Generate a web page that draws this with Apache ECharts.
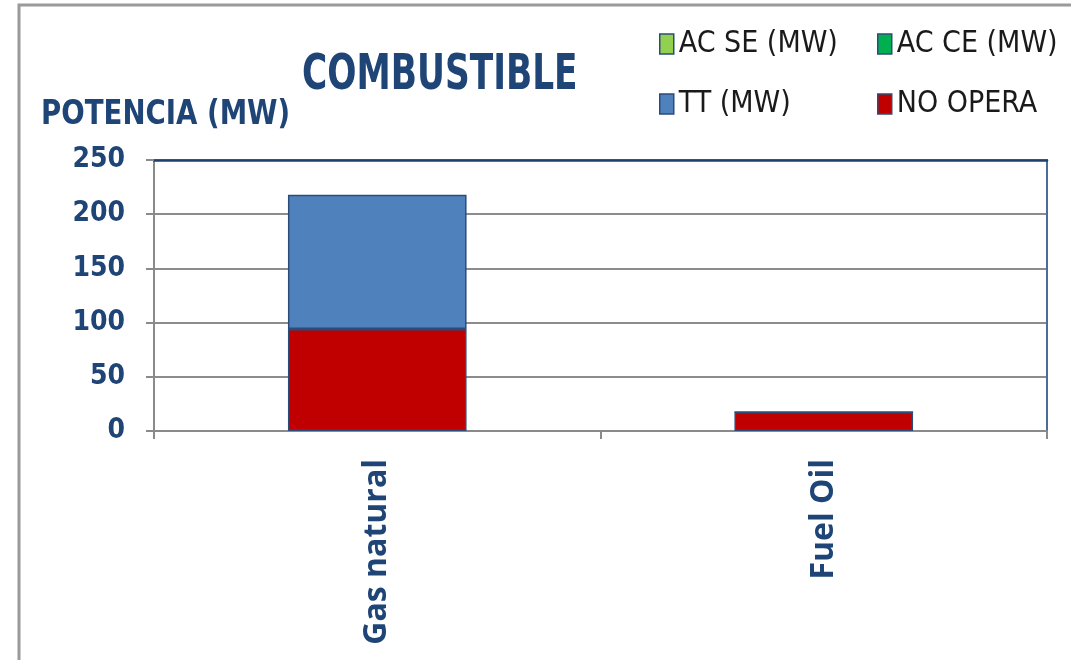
<!DOCTYPE html>
<html>
<head>
<meta charset="utf-8">
<script src="https://cdn.jsdelivr.net/npm/echarts@6/dist/echarts.min.js"></script>
<style>
html,body{margin:0;padding:0;background:#fff;}
#c{width:1071px;height:660px;}
</style>
</head>
<body>
<div id="c"></div>
<script>
var categories = ['Gas natural', 'Fuel Oil'];
var acSE = [0, 0];
var acCE = [0, 0];
var tt = [124, 0];
var noOpera = [94, 17.5];
var yTicks = [0, 50, 100, 150, 200, 250];
var legendNames = ['AC SE (MW)', 'AC CE (MW)', 'TT (MW)', 'NO OPERA'];

var NARROW = '"Liberation Sans Narrow","DejaVu Sans Condensed",sans-serif';
var DARK = '#1F4577';
var BORDER = '#2B4C7A';

function legendAt(name, left, top) {
  return {
    data: [name], left: left, top: top, icon: 'rect', padding: 0,
    itemWidth: 14, itemHeight: 20, itemGap: 0,
    itemStyle: {borderColor: BORDER, borderWidth: 1.5},
    textStyle: {fontFamily: NARROW, fontSize: 30, color: '#1a1a1a'}
  };
}

var chart = echarts.init(document.getElementById('c'));
chart.setOption({
  animation: false,
  backgroundColor: '#fff',
  graphic: [{
    type: 'rect', silent: true, z: 0,
    shape: {x: 19, y: 5, width: 1100, height: 700},
    style: {fill: 'none', stroke: '#9a9a9a', lineWidth: 3}
  }, {
    type: 'text', silent: true, x: 302, y: 51, scaleX: 0.765,
    style: {text: 'COMBUSTIBLE', font: 'bold 50px ' + NARROW, fill: DARK}
  }, {
    type: 'text', silent: true, x: 41, y: 99, scaleX: 0.93,
    style: {text: 'POTENCIA (MW)', font: 'bold 33px ' + NARROW, fill: DARK}
  }],
  legend: [
    legendAt(legendNames[0], 659, 29),
    legendAt(legendNames[1], 877, 29),
    legendAt(legendNames[2], 659, 89),
    legendAt(legendNames[3], 877, 89)
  ],
  grid: {left: 154, right: 24, top: 160, bottom: 229, containLabel: false},
  xAxis: [{
    type: 'category', data: categories, position: 'bottom',
    axisLine: {onZero: false, lineStyle: {color: '#8a8a8a', width: 2}},
    axisTick: {show: true, length: 8, lineStyle: {color: '#8a8a8a', width: 2}},
    axisLabel: {rotate: 90, margin: 28, fontFamily: '"Open Sans","DejaVu Sans",sans-serif', fontSize: 32, fontWeight: 'bold', color: DARK},
    splitLine: {show: false}
  }, {
    type: 'category', data: categories, position: 'top',
    axisLine: {show: true, onZero: false, lineStyle: {color: '#1F3F6F', width: 2.5}},
    axisTick: {show: false}, axisLabel: {show: false}
  }],
  yAxis: [{
    type: 'value', min: yTicks[0], max: yTicks[yTicks.length - 1], interval: 50,
    axisLine: {show: true, onZero: false, lineStyle: {color: '#8a8a8a', width: 2}},
    axisTick: {show: true, length: 8, lineStyle: {color: '#8a8a8a', width: 2}},
    axisLabel: {margin: 29, fontFamily: NARROW, fontSize: 28, fontWeight: 'bold', color: DARK},
    splitLine: {show: true, lineStyle: {color: '#8c8c8c', width: 2}}
  }, {
    type: 'value', min: 0, max: 250, interval: 50, position: 'right',
    axisLine: {show: true, onZero: false, lineStyle: {color: '#4A6C9C', width: 2}},
    axisTick: {show: false}, axisLabel: {show: false}, splitLine: {show: false}
  }],
  series: [{
    name: 'NO OPERA', type: 'bar', stack: 's', data: noOpera, barWidth: '40%',
    itemStyle: {color: '#C00000', borderColor: BORDER, borderWidth: 1.5}
  }, {
    name: 'TT (MW)', type: 'bar', stack: 's', data: tt,
    itemStyle: {color: '#4F81BD', borderColor: BORDER, borderWidth: 1.5}
  }, {
    name: 'AC CE (MW)', type: 'bar', stack: 's', data: acCE,
    itemStyle: {color: '#00B050', borderColor: BORDER, borderWidth: 0}
  }, {
    name: 'AC SE (MW)', type: 'bar', stack: 's', data: acSE,
    itemStyle: {color: '#92D050', borderColor: BORDER, borderWidth: 0}
  }]
});
</script>
</body>
</html>
